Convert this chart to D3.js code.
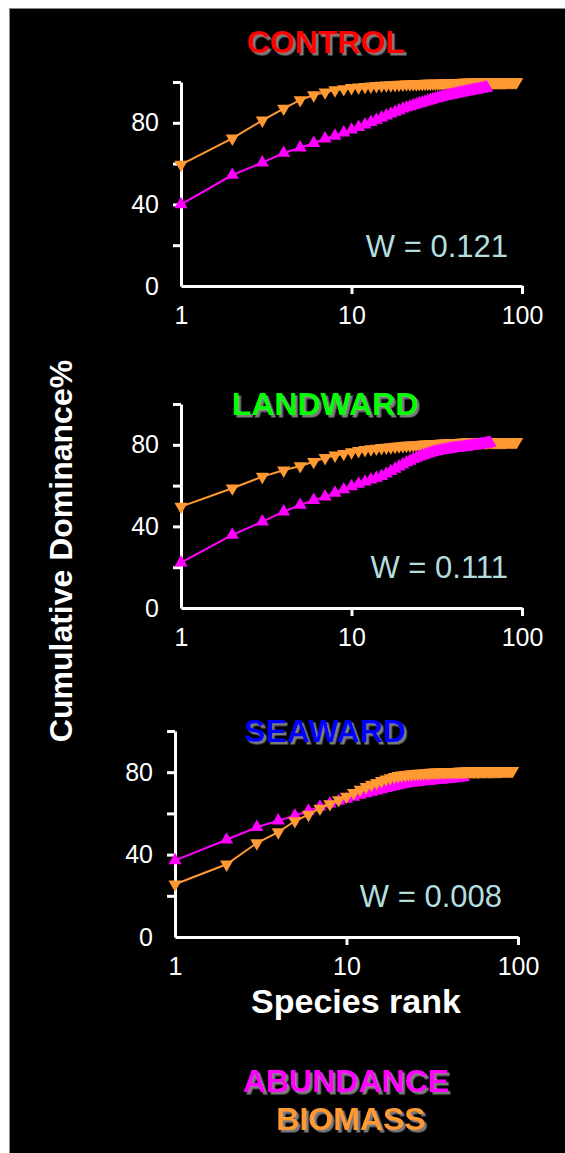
<!DOCTYPE html>
<html>
<head>
<meta charset="utf-8">
<script src="https://cdn.jsdelivr.net/npm/d3@7"></script>
<style>
  body { margin: 0; background: #fff; }
  svg { display: block; }
  text { font-family: 'Liberation Sans', Arial, Helvetica, sans-serif; }
</style>
</head>
<body>
<svg id="chart" width="565" height="1153"></svg>
<script>
// values are cumulative dominance %, index 0 = species rank 1
let panelNames = ['CONTROL', 'LANDWARD', 'SEAWARD']
let titleColors = ['#ff0000', '#00ff00', '#0000ff']
let wLabels = ['W = 0.121', 'W = 0.111', 'W = 0.008']
let legendNames = ['ABUNDANCE', 'BIOMASS']
let seriesColors = ['#ff00ff', '#ff9933']

let controlAbundance = [40.0, 54.4, 60.5, 65.2, 67.8, 70.0, 72.2, 73.6, 75.2, 76.6,
  77.9, 79.1, 80.3, 81.4, 82.5, 83.5, 84.4, 85.3, 86.1, 86.9,
  87.5, 88.0, 88.5, 89.0, 89.5, 89.9, 90.3, 90.7, 91.1, 91.5,
  91.8, 92.1, 92.4, 92.7, 93.0, 93.2, 93.4, 93.6, 93.8, 94.0,
  94.2, 94.4, 94.6, 94.8, 94.9, 95.1, 95.2, 95.4, 95.5, 95.7,
  95.8, 95.9, 96.1, 96.2, 96.3, 96.5, 96.6, 96.7, 96.8, 97.0,
  97.1, 97.2]
let controlBiomass = [59.5, 72.4, 81.2, 87.0, 91.2, 93.6, 95.0, 96.0, 96.6, 97.1,
  97.4, 97.7, 97.9, 98.1, 98.3, 98.4, 98.5, 98.6, 98.7, 98.8,
  98.9, 98.9, 99.0, 99.0, 99.1, 99.1, 99.2, 99.2, 99.2, 99.3,
  99.3, 99.3, 99.4, 99.4, 99.4, 99.5, 99.5, 99.5, 99.5, 99.6,
  99.6, 99.6, 99.6, 99.6, 99.7, 99.7, 99.7, 99.7, 99.7, 99.7,
  99.8, 99.8, 99.8, 99.8, 99.8, 99.8, 99.8, 99.8, 99.8, 99.8,
  99.8, 99.8, 99.8, 99.8, 99.9, 99.9, 99.9, 99.9, 99.9, 99.9,
  99.9, 99.9, 99.9, 99.9, 99.9, 99.9, 99.9, 99.9, 99.9, 99.9,
  100, 100, 100, 100, 100, 100, 100, 100, 100, 100,
  100, 100, 100]

let landwardAbundance = [22.2, 35.8, 42.3, 47.2, 50.5, 52.9, 54.6, 56.4, 58.1, 59.6,
  60.8, 61.9, 62.9, 63.8, 64.6, 65.8, 67.0, 68.2, 69.3, 70.4,
  71.3, 72.1, 72.9, 73.6, 74.2, 74.7, 75.2, 75.6, 76.0, 76.4,
  76.7, 76.9, 77.1, 77.3, 77.5, 77.7, 77.9, 78.0, 78.2, 78.3,
  78.4, 78.5, 78.6, 78.7, 78.8, 78.9, 79.0, 79.1, 79.3, 79.4,
  79.5, 79.6, 79.7, 79.8, 79.9, 80.0, 80.1, 80.2, 80.3, 80.4,
  80.5, 80.6, 80.7, 80.8, 80.9]
let landwardBiomass = [49.7, 58.7, 64.4, 67.5, 69.6, 71.7, 73.6, 74.8, 75.6, 76.4,
  77.0, 77.5, 77.9, 78.2, 78.5, 78.7, 78.9, 79.1, 79.3, 79.5,
  79.6, 79.7, 79.8, 79.9, 80.0, 80.1, 80.2, 80.3, 80.3, 80.4,
  80.5, 80.5, 80.6, 80.6, 80.7, 80.7, 80.8, 80.8, 80.9, 80.9,
  81.0, 81.0, 81.0, 81.1, 81.1, 81.1, 81.2, 81.2, 81.2, 81.3,
  81.3, 81.3, 81.3, 81.3, 81.3, 81.3, 81.3, 81.3, 81.3, 81.3,
  81.3, 81.3, 81.4, 81.4, 81.4, 81.4, 81.4, 81.4, 81.4, 81.4,
  81.4, 81.4, 81.4, 81.4, 81.4, 81.4, 81.4, 81.4, 81.4, 81.4,
  81.5, 81.5, 81.5, 81.5, 81.5, 81.5, 81.5, 81.5, 81.5, 81.5,
  81.5, 81.5, 81.5]

let seawardAbundance = [37.2, 47.2, 53.3, 56.5, 58.9, 61.2, 63.2, 64.7, 66.0, 67.0,
  68.0, 68.9, 69.7, 70.4, 71.0, 71.6, 72.2, 72.7, 73.2, 73.6,
  74.0, 74.3, 74.6, 74.8, 75.0, 75.2, 75.4, 75.5, 75.7, 75.8,
  75.9, 76.0, 76.1, 76.2, 76.3, 76.4, 76.5, 76.6, 76.7, 76.8,
  76.9, 77.0, 77.1, 77.2, 77.3, 77.4, 77.5, 77.6]
let seawardBiomass = [25.6, 35.3, 45.6, 50.9, 56.3, 59.4, 62.4, 64.6, 66.5, 68.2,
  70.0, 71.6, 72.9, 74.0, 74.9, 75.8, 76.6, 77.2, 77.8, 78.2,
  78.5, 78.7, 78.9, 79.1, 79.2, 79.3, 79.4, 79.5, 79.6, 79.7,
  79.8, 79.8, 79.9, 79.9, 80.0, 80.0, 80.0, 80.1, 80.1, 80.1,
  80.2, 80.2, 80.2, 80.2, 80.3, 80.3, 80.3, 80.3, 80.3, 80.4,
  80.4, 80.4, 80.4, 80.4, 80.4, 80.4, 80.4, 80.4, 80.4, 80.4,
  80.5, 80.5, 80.5, 80.5, 80.5, 80.5, 80.5, 80.5, 80.5, 80.5,
  80.6, 80.6, 80.6, 80.6, 80.6, 80.6, 80.6, 80.6, 80.6, 80.6,
  80.7, 80.7, 80.7, 80.7, 80.7, 80.7, 80.7, 80.7, 80.7, 80.7,
  80.7, 80.7, 80.7]

let abundance = [controlAbundance, landwardAbundance, seawardAbundance]
let biomass = [controlBiomass, landwardBiomass, seawardBiomass]

let yTicks = [0, 20, 40, 60, 80, 100]
let yTickLabels = ['0', '', '40', '', '80', '']
let xTicks = [1, 10, 100]

// panel boxes (plot area in px)
let boxes = [
  { left: 181, right: 522, top: 82, bottom: 286, title: [326, 53], w: [508, 257], front: 'abundance' },
  { left: 181, right: 522, top: 404, bottom: 608, title: [325, 415], w: [508, 578], front: 'abundance' },
  { left: 175, right: 518, top: 731, bottom: 937, title: [325, 742], w: [502, 907], front: 'biomass' }
]

let svg = d3.select('#chart')

// grey drop shadow used by the coloured titles
svg.append('defs').append('filter')
  .attr('id', 'shadow')
  .attr('x', '-10%')
  .attr('y', '-20%')
  .attr('width', '120%')
  .attr('height', '150%')
  .append('feDropShadow')
  .attr('dx', 2.5)
  .attr('dy', 2.5)
  .attr('stdDeviation', 0)
  .attr('flood-color', '#7a7a7a')
  .attr('flood-opacity', 1)

svg.append('rect')
  .attr('x', 9.5)
  .attr('y', 8.5)
  .attr('width', 560)
  .attr('height', 1150)
  .attr('fill', '#000')
  .attr('stroke', '#888')
  .attr('stroke-width', 1)

function shadowText (g, x, y, str, color, size) {
  g.append('text')
    .attr('x', x)
    .attr('y', y)
    .attr('text-anchor', 'middle')
    .attr('font-weight', 'bold')
    .attr('font-size', size)
    .attr('fill', color)
    .attr('filter', 'url(#shadow)')
    .text(str)
}

boxes.forEach(function (b, p) {
  let g = svg.append('g').attr('class', 'panel')

  let x = d3.scaleLog().domain([1, 100]).range([b.left, b.right])
  let y = d3.scaleLinear().domain([0, 100]).range([b.bottom, b.top])

  // y axis
  let yAxis = g.append('g')
    .attr('transform', 'translate(' + b.left + ',0)')
    .call(d3.axisLeft(y)
      .tickValues(yTicks)
      .tickSize(8)
      .tickSizeOuter(0)
      .tickPadding(14)
      .tickFormat(function (d, i) { return yTickLabels[i] }))
  yAxis.selectAll('.tick line').filter(function (d) { return d === 0 }).remove()

  // x axis
  let xAxis = g.append('g')
    .attr('transform', 'translate(0,' + b.bottom + ')')
    .call(d3.axisBottom(x)
      .tickValues(xTicks)
      .tickSize(8)
      .tickSizeOuter(0)
      .tickPadding(12)
      .tickFormat(d3.format('d')))
  xAxis.selectAll('.tick line').filter(function (d) { return d === 1 }).remove()

  g.selectAll('.domain, .tick line')
    .attr('stroke', '#fff')
    .attr('stroke-width', 3)
  g.selectAll('.tick text')
    .attr('fill', '#fff')
    .attr('font-size', 25)
    .style('font-family', "'Liberation Sans', Arial, sans-serif")

  let line = d3.line()
    .x(function (d, i) { return x(i + 1) })
    .y(function (d) { return y(d) })

  let series = [
    { key: 'biomass', values: biomass[p], color: seriesColors[1], rot: 180 },
    { key: 'abundance', values: abundance[p], color: seriesColors[0], rot: 0 }
  ]
  if (b.front === 'biomass') series.reverse()

  let tri = d3.symbol().type(d3.symbolTriangle).size(75)

  series.forEach(function (s) {
    let sg = g.append('g').attr('class', s.key)
    sg.append('path')
      .datum(s.values)
      .attr('fill', 'none')
      .attr('stroke', s.color)
      .attr('stroke-width', 2)
      .attr('d', line)
    sg.selectAll('path.mark')
      .data(s.values)
      .enter().append('path')
      .attr('class', 'mark')
      .attr('d', tri)
      .attr('fill', s.color)
      .attr('transform', function (d, i) {
        return 'translate(' + x(i + 1) + ',' + y(d) + ') rotate(' + s.rot + ')'
      })
  })

  shadowText(g, b.title[0], b.title[1], panelNames[p], titleColors[p], 32)

  g.append('text')
    .attr('x', b.w[0])
    .attr('y', b.w[1])
    .attr('text-anchor', 'end')
    .attr('font-size', 31)
    .attr('fill', '#b4dede')
    .text(wLabels[p])
})

// axis titles
svg.append('text')
  .attr('transform', 'translate(72,551) rotate(-90)')
  .attr('text-anchor', 'middle')
  .attr('font-weight', 'bold')
  .attr('font-size', 32)
  .attr('fill', '#fff')
  .text('Cumulative Dominance%')

svg.append('text')
  .attr('x', 356)
  .attr('y', 1013)
  .attr('text-anchor', 'middle')
  .attr('font-weight', 'bold')
  .attr('font-size', 34)
  .attr('fill', '#fff')
  .text('Species rank')

// legend
let legend = svg.append('g').attr('class', 'legend')
shadowText(legend, 346, 1092, legendNames[0], seriesColors[0], 32)
shadowText(legend, 351, 1130, legendNames[1], seriesColors[1], 32)
</script>
</body>
</html>
